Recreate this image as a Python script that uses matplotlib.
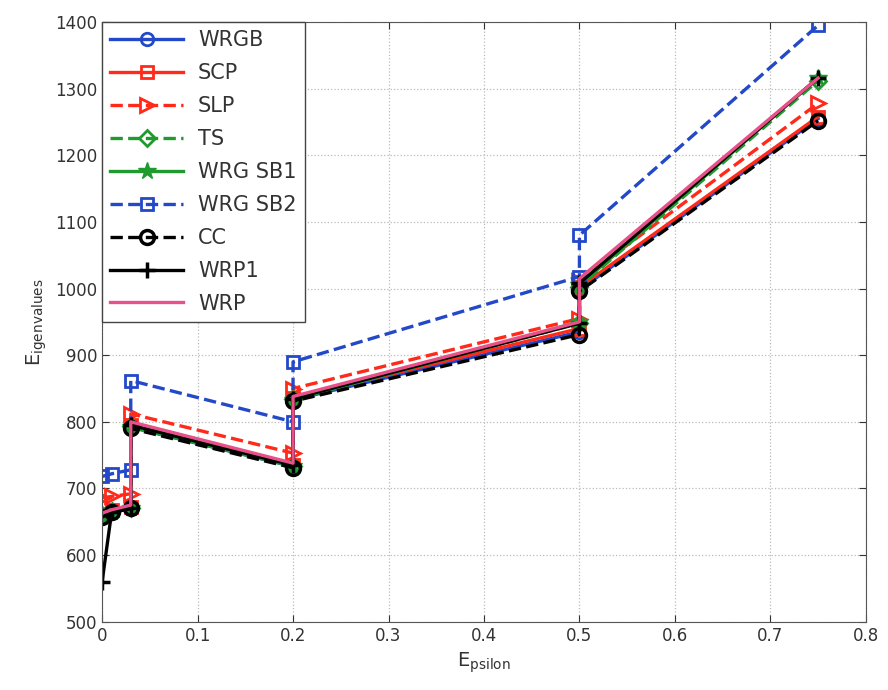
import numpy as np
import matplotlib.pyplot as plt

# epsilon steps (each jump point appears twice)
eps = [0, 0.01, 0.03, 0.03, 0.2, 0.2, 0.5, 0.5, 0.75]

wrgb = [660, 665, 670, 792, 733, 833, 935, 998, 1255]
scp = [662, 667, 672, 795, 735, 836, 940, 1002, 1258]
slp = [686, 688, 692, 812, 753, 850, 955, 1012, 1278]
ts = [660, 666, 671, 793, 734, 834, 948, 1003, 1312]
wrg_sb1 = [658, 664, 670, 792, 733, 833, 950, 1005, 1316]
wrg_sb2 = [718, 722, 728, 862, 800, 890, 1018, 1080, 1395]
cc = [657, 664, 670, 790, 731, 831, 931, 996, 1252]
wrp1 = [560, 665, 670, 795, 735, 835, 948, 1008, 1316]
wrp = [663, 668, 675, 800, 738, 838, 950, 1015, 1316]

xticks = [0, 0.1, 0.2, 0.3, 0.4, 0.5, 0.6, 0.7, 0.8]
yticks = [500, 600, 700, 800, 900, 1000, 1100, 1200, 1300, 1400]

blue = '#2348c8'
red = '#ff2a1a'
green = '#1e9a2e'
pink = '#e8508a'

fig = plt.figure(figsize=(8.88, 6.9), dpi=100)
ax = fig.add_axes([0.115, 0.099, 0.86, 0.869])

lw = 2.4
ms = 9
ax.plot(eps, wrgb, '-', color=blue, lw=lw, marker='o', ms=ms, mfc='none', mew=2, label='WRGB')
ax.plot(eps, scp, '-', color=red, lw=lw, marker='s', ms=ms - 1, mfc='none', mew=2, label='SCP')
ax.plot(eps, slp, '--', color=red, lw=lw, marker='>', ms=ms + 1, mfc='none', mew=2, label='SLP')
ax.plot(eps, ts, '--', color=green, lw=lw, marker='D', ms=ms - 1, mfc='none', mew=2, label='TS')
ax.plot(eps, wrg_sb1, '-', color=green, lw=lw, marker='*', ms=ms + 4, mew=1, label='WRG SB1')
ax.plot(eps, wrg_sb2, '--', color=blue, lw=lw, marker='s', ms=ms - 1, mfc='none', mew=2, label='WRG SB2')
ax.plot(eps, cc, '--', color='black', lw=lw, marker='o', ms=ms + 1, mfc='none', mew=2.5, label='CC')
ax.plot(eps, wrp1, '-', color='black', lw=lw, marker='+', ms=ms + 3, mew=2.5, label='WRP1')
ax.plot(eps, wrp, '-', color=pink, lw=lw, label='WRP')

ax.set_xlim(0, 0.8)
ax.set_ylim(500, 1400)
ax.set_xticks(xticks)
ax.set_yticks(yticks)
ax.set_xticklabels(['0', '0.1', '0.2', '0.3', '0.4', '0.5', '0.6', '0.7', '0.8'])
ax.tick_params(direction='in', top=True, right=True, labelsize=12, colors='#333333', length=5)
ax.grid(True, linestyle=':', color='#bbbbbb', lw=0.9)
for s in ax.spines.values():
    s.set_color('#555555')

ax.set_xlabel(r'$\mathregular{E_{psilon}}$', fontsize=14, color='#333333')
ax.set_ylabel(r'$\mathregular{E_{igenvalues}}$', fontsize=14, color='#333333')

leg = ax.legend(loc='upper left', fontsize=15, handlelength=3.5, labelspacing=0.62,
                handletextpad=0.7, borderaxespad=0.0, fancybox=False,
                edgecolor='#444444', framealpha=1)
for t in leg.get_texts():
    t.set_color('#333333')

fig.savefig('out.png', dpi=100)
